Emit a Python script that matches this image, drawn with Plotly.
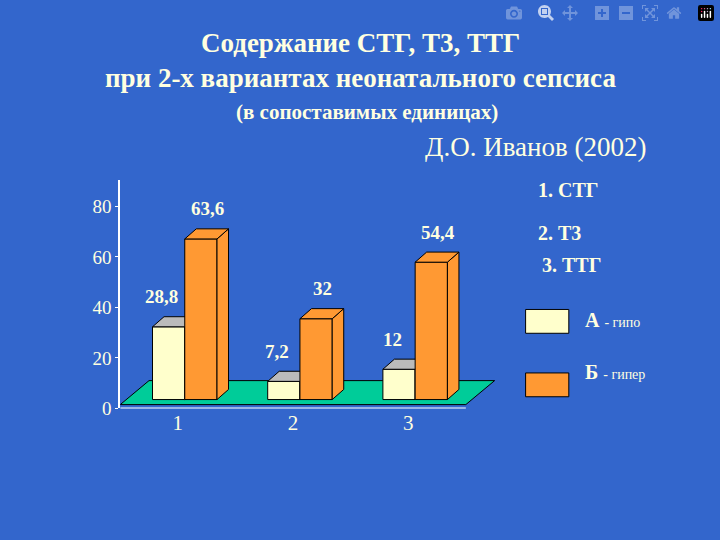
import plotly.graph_objects as go

groups = [1, 2, 3]
hypo = [28.8, 7.2, 12]
hyper = [63.6, 32, 54.4]
hypo_labels = ["28,8", "7,2", "12"]
hyper_labels = ["63,6", "32", "54,4"]
y_ticks = [0, 20, 40, 60, 80]

BG = "#3366CC"
CREAM = "#FFFFCC"
ORANGE = "#FF9933"
TXT = "#FFFFE0"
base = 3.5
w = 0.28
dx, dy = 0.1, 4.0

fig = go.Figure()

# floor
fig.add_trace(go.Scatter(x=[0.5, 3.5, 3.75, 0.75, 0.5], y=[1.5, 1.5, 11, 11, 1.5],
                         fill="toself", fillcolor="#00CC99", mode="lines",
                         line=dict(color="black", width=1), hoverinfo="skip"))

def box(xc, h, face, top):
    x0, x1 = xc - w / 2, xc + w / 2
    y0, y1 = base, base + h
    fig.add_trace(go.Scatter(x=[x0, x1, x1, x0, x0], y=[y0, y0, y1, y1, y0], fill="toself",
                             fillcolor=face, mode="lines", line=dict(color="black", width=1)))
    fig.add_trace(go.Scatter(x=[x1, x1 + dx, x1 + dx, x1, x1], y=[y0, y0 + dy, y1 + dy, y1, y0],
                             fill="toself", fillcolor=face, mode="lines", line=dict(color="black", width=1)))
    fig.add_trace(go.Scatter(x=[x0, x1, x1 + dx, x0 + dx, x0], y=[y1, y1, y1 + dy, y1 + dy, y1],
                             fill="toself", fillcolor=top, mode="lines", line=dict(color="black", width=1)))

for g, a, b, la, lb in zip(groups, hypo, hyper, hypo_labels, hyper_labels):
    box(g - 0.08, a, CREAM, "#BBBBBB")
    box(g + 0.2, b, ORANGE, ORANGE)
    fig.add_annotation(x=g - 0.14, y=base + a + dy + 3, text="<b>" + la + "</b>", showarrow=False,
                       yanchor="bottom", font=dict(size=19, color=TXT, family="Liberation Serif"))
    fig.add_annotation(x=g + 0.26, y=base + b + dy + 3, text="<b>" + lb + "</b>", showarrow=False,
                       yanchor="bottom", font=dict(size=19, color=TXT, family="Liberation Serif"))

# x axis line only across the categories
fig.add_shape(type="line", x0=0.5, x1=3.5, y0=0, y1=0, line=dict(color="white", width=2))

fig.update_layout(
    width=720, height=540, paper_bgcolor=BG, plot_bgcolor=BG, showlegend=False,
    margin=dict(l=0, r=0, t=0, b=0),
    font=dict(family="Liberation Serif", color=TXT, size=18),
    xaxis=dict(domain=[0.167, 0.695], range=[0.5, 3.8], tickvals=groups, showgrid=False,
               zeroline=False, showline=False, ticks="", tickfont=dict(size=21)),
    yaxis=dict(domain=[0.228, 0.66], range=[0, 90.5], tickvals=y_ticks, showgrid=False,
               zeroline=False, showline=True, linecolor="white", linewidth=2,
               ticks="outside", tickcolor="white", ticklen=3, tickfont=dict(size=19)),
)

title_font = dict(family="Liberation Serif", color=TXT)
fig.add_annotation(xref="paper", yref="paper", x=0.5, y=0.95, showarrow=False,
                   text="<b>Содержание СТГ, Т3, ТТГ</b>", font=dict(size=27, **title_font))
fig.add_annotation(xref="paper", yref="paper", x=0.5, y=0.885, showarrow=False,
                   text="<b>при 2-х вариантах неонатального сепсиса</b>", font=dict(size=27, **title_font))
fig.add_annotation(xref="paper", yref="paper", x=0.51, y=0.815, showarrow=False,
                   text="<b>(в сопоставимых единицах)</b>", font=dict(size=21, **title_font))
fig.add_annotation(xref="paper", yref="paper", x=0.9, y=0.755, xanchor="right", showarrow=False,
                   text="Д.О. Иванов (2002)", font=dict(size=27, **title_font))

for txt, xx, yy in [("1. СТГ", 0.745, 0.64), ("2. Т3", 0.745, 0.56), ("3. ТТГ", 0.75, 0.5)]:
    fig.add_annotation(xref="paper", yref="paper", x=xx, y=yy, xanchor="left", showarrow=False,
                       text="<b>" + txt + "</b>", font=dict(size=20, color=TXT))

fig.add_shape(type="rect", xref="paper", yref="paper", x0=0.73, x1=0.79, y0=0.37, y1=0.415,
              fillcolor=CREAM, line=dict(color="black", width=1))
fig.add_shape(type="rect", xref="paper", yref="paper", x0=0.73, x1=0.79, y0=0.25, y1=0.295,
              fillcolor=ORANGE, line=dict(color="black", width=1))
fig.add_annotation(xref="paper", yref="paper", x=0.81, y=0.395, xanchor="left", showarrow=False,
                   text="<b>А</b> <span style='font-size:14px'>- гипо</span>", font=dict(size=20, color=TXT))
fig.add_annotation(xref="paper", yref="paper", x=0.81, y=0.272, xanchor="left", showarrow=False,
                   text="<b>Б</b> <span style='font-size:14px'>- гипер</span>", font=dict(size=20, color=TXT))

fig.write_html("out.html", post_script="document.body.style.margin='0';")
